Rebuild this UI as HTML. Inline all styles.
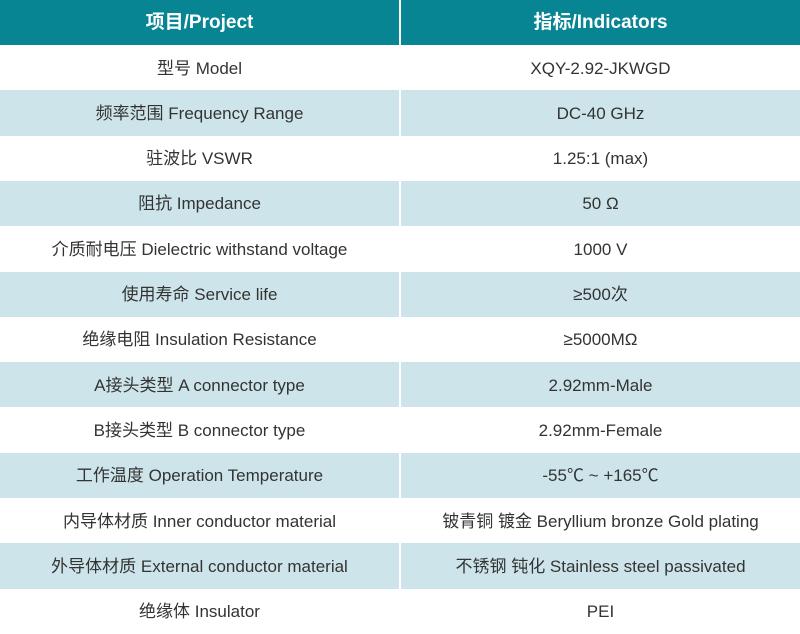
<!DOCTYPE html>
<html><head><meta charset="utf-8"><style>
body{margin:0;width:800px;height:634px;background:#fff;overflow:hidden;font-family:"Liberation Sans","Noto Sans CJK SC",sans-serif;}
.r{position:absolute;left:0;width:800px;height:45.3px;}
.c{position:absolute;top:0;height:100%;text-align:center;font-size:17px;color:#333;line-height:45px;white-space:nowrap;}
.c span{display:inline-block;line-height:20px;height:20px;vertical-align:middle;}
.a{left:0;width:399px}.b{left:401px;width:399px}
.h .c{background:#078593;color:#fff;font-weight:bold;font-size:19px}
.s .c{background:#cde5ea}
</style></head><body>
<div class="r h" style="top:0;height:45px"><div class="c a"><span>项目/Project</span></div><div class="c b"><span>指标/Indicators</span></div></div>
<div class="r" style="top:45px"><div class="c a"><span>型号 Model</span></div><div class="c b"><span>XQY-2.92-JKWGD</span></div></div>
<div class="r s" style="top:90.3px"><div class="c a"><span>频率范围 Frequency Range</span></div><div class="c b"><span>DC-40 GHz</span></div></div>
<div class="r" style="top:135.6px"><div class="c a"><span>驻波比 VSWR</span></div><div class="c b"><span>1.25:1 (max)</span></div></div>
<div class="r s" style="top:180.9px"><div class="c a"><span>阻抗 Impedance</span></div><div class="c b"><span>50 Ω</span></div></div>
<div class="r" style="top:226.2px"><div class="c a"><span>介质耐电压 Dielectric withstand voltage</span></div><div class="c b"><span>1000 V</span></div></div>
<div class="r s" style="top:271.5px"><div class="c a"><span>使用寿命 Service life</span></div><div class="c b"><span>≥500次</span></div></div>
<div class="r" style="top:316.8px"><div class="c a"><span>绝缘电阻 Insulation Resistance</span></div><div class="c b"><span>≥5000MΩ</span></div></div>
<div class="r s" style="top:362.1px"><div class="c a"><span>A接头类型 A connector type</span></div><div class="c b"><span>2.92mm-Male</span></div></div>
<div class="r" style="top:407.4px"><div class="c a"><span>B接头类型 B connector type</span></div><div class="c b"><span>2.92mm-Female</span></div></div>
<div class="r s" style="top:452.7px"><div class="c a"><span>工作温度 Operation Temperature</span></div><div class="c b"><span>-55℃ ~ +165℃</span></div></div>
<div class="r" style="top:498px"><div class="c a"><span>内导体材质 Inner conductor material</span></div><div class="c b"><span>铍青铜 镀金 Beryllium bronze Gold plating</span></div></div>
<div class="r s" style="top:543.3px"><div class="c a"><span>外导体材质 External conductor material</span></div><div class="c b"><span>不锈钢 钝化 Stainless steel passivated</span></div></div>
<div class="r" style="top:588.6px"><div class="c a"><span>绝缘体 Insulator</span></div><div class="c b"><span>PEI</span></div></div>
</body></html>
